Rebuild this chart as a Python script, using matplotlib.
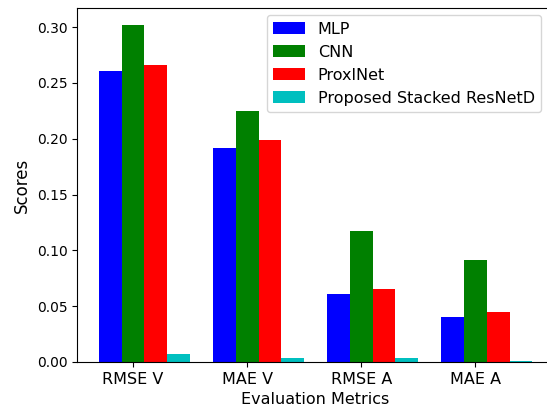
import numpy as np
import matplotlib.pyplot as plt

metrics = ['RMSE V', 'MAE V', 'RMSE A', 'MAE A']
mlp = [0.261, 0.192, 0.061, 0.040]
cnn = [0.302, 0.225, 0.117, 0.091]
proxlnet = [0.266, 0.199, 0.065, 0.045]
resnetd = [0.007, 0.003, 0.003, 0.001]

x = np.arange(len(metrics))
w = 0.2

fig = plt.figure(figsize=(5.47, 4.07), dpi=100)
ax = fig.add_axes([0.141, 0.111, 0.872, 0.869])
ax.bar(x - w, mlp, w, color='b', label='MLP')
ax.bar(x, cnn, w, color='g', label='CNN')
ax.bar(x + w, proxlnet, w, color='r', label='ProxlNet')
ax.bar(x + 2*w, resnetd, w, color='c', label='Proposed Stacked ResNetD')

ax.set_xticks(x)
ax.set_xticklabels(metrics, fontsize=11.5)
ax.tick_params(axis='y', labelsize=10)
ax.set_xlabel('Evaluation Metrics', fontsize=11.5)
ax.set_ylabel('Scores', fontsize=12)
ax.legend(fontsize=11.5, loc='upper right', bbox_to_anchor=(0.973, 0.98),
          borderaxespad=0)

fig.savefig('out.png', dpi=100)
